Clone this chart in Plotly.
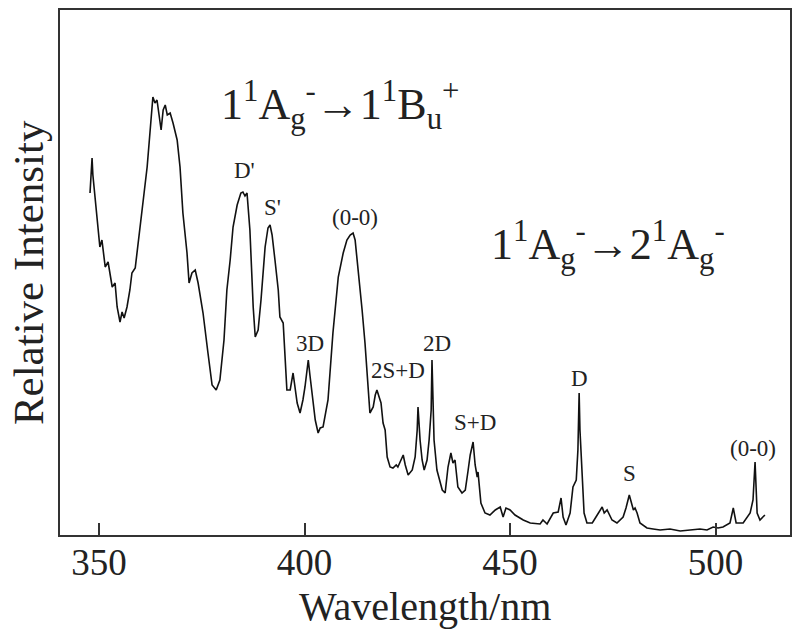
import plotly.graph_objects as go

# Wavelength (nm) and relative intensity (arbitrary units)
wavelength = [347.8, 348.3, 348.5, 349.0, 349.5, 350.2, 350.7, 351.5, 352.2, 353.2,
              353.9, 354.4, 355.1, 355.6, 356.1, 356.8, 357.5, 358.0, 358.8, 359.2,
              360.0, 360.9, 361.7, 362.4, 363.1, 363.6, 364.1, 364.6, 365.1, 365.6,
              366.1, 366.6, 367.3, 368.0, 369.0, 369.7, 370.4, 371.4, 371.9, 372.6,
              373.4, 374.1, 375.3, 376.5, 377.5, 378.5, 379.4, 380.4, 381.1, 381.9,
              382.6, 383.6, 384.5, 385.0, 385.5, 386.0, 386.7, 387.5, 388.0, 388.7,
              389.4, 390.4, 391.1, 391.6, 392.1, 392.8, 393.6, 394.0, 394.8, 395.7,
              396.5, 397.2, 398.2, 398.9, 399.6, 400.1, 400.9, 401.3, 401.8, 402.6,
              403.3, 403.8, 404.5, 405.7, 406.9, 407.7, 408.2, 409.4, 410.3, 411.1,
              411.8, 412.3, 412.8, 413.5, 414.0, 414.7, 415.2, 415.9, 416.7, 417.2,
              417.6, 418.1, 418.6, 419.1, 419.6, 420.1, 420.8, 421.5, 422.3, 422.7,
              423.5, 424.0, 424.5, 425.2, 426.2, 426.9, 427.4, 427.6, 428.1, 428.6,
              429.1, 429.8, 430.3, 430.8, 431.0, 431.3, 431.5, 432.2, 433.0, 433.5,
              434.2, 434.9, 435.6, 436.1, 436.6, 437.3, 438.3, 439.1, 439.8, 440.3,
              441.0, 441.5, 442.0, 442.2, 442.9, 443.9, 445.1, 446.4, 447.6, 448.3,
              449.0, 450.0, 451.2, 453.2, 454.9, 457.3, 458.0, 459.0, 460.5, 461.7,
              462.4, 462.9, 463.6, 464.6, 465.3, 466.1, 466.5, 466.8, 467.0, 467.5,
              468.0, 468.7, 470.0, 471.2, 472.4, 472.9, 473.6, 474.8, 476.0, 477.5,
              478.2, 479.0, 479.5, 480.0, 480.4, 480.9, 481.6, 483.3, 484.8, 486.5,
              488.9, 491.4, 493.8, 496.2, 497.9, 499.4, 500.6, 501.8, 503.5, 504.3,
              505.0, 506.7, 508.4, 509.1, 509.6, 510.1, 510.8, 511.6, 512.0]
intensity = [68.4, 75.4, 72.0, 67.6, 64.0, 57.6, 59.0, 53.6, 54.6, 49.6,
             50.4, 45.6, 42.6, 44.6, 43.4, 45.6, 49.0, 52.4, 53.4, 56.4,
             62.4, 68.0, 73.6, 81.0, 87.6, 86.4, 87.0, 84.0, 81.0, 85.0,
             86.0, 84.0, 84.4, 82.4, 79.0, 73.6, 64.4, 56.4, 50.4, 52.4,
             53.0, 50.4, 44.4, 36.4, 30.0, 29.0, 31.0, 39.0, 49.0, 55.0,
             61.6, 66.0, 68.4, 68.6, 67.8, 68.4, 61.0, 45.6, 39.6, 41.0,
             47.0, 57.6, 61.4, 62.0, 60.0, 55.0, 49.0, 43.6, 42.4, 29.0,
             29.0, 32.4, 26.4, 24.4, 27.0, 29.6, 35.0, 32.0, 28.4, 23.0,
             20.4, 21.4, 21.6, 27.0, 40.4, 47.0, 51.6, 56.4, 59.0, 60.0,
             60.4, 59.0, 55.0, 50.0, 45.0, 38.4, 32.4, 24.4, 25.6, 28.0,
             29.0, 27.6, 26.4, 22.4, 21.0, 15.6, 13.6, 13.4, 14.0, 13.6,
             15.0, 16.0, 14.0, 12.0, 13.0, 15.6, 21.0, 25.6, 19.0, 15.0,
             13.0, 15.0, 19.0, 25.0, 35.0, 27.0, 19.0, 13.0, 10.4, 9.0,
             8.4, 13.6, 16.4, 14.4, 15.0, 9.6, 8.4, 9.0, 13.0, 16.0,
             18.6, 14.0, 11.6, 12.6, 6.4, 4.4, 4.0, 5.0, 5.6, 3.6,
             5.4, 5.0, 4.0, 3.0, 2.4, 2.2, 3.0, 2.2, 4.4, 4.6,
             7.4, 3.6, 2.0, 4.4, 9.6, 11.0, 17.0, 28.4, 21.0, 11.0,
             4.4, 2.4, 2.4, 4.0, 5.6, 4.4, 5.0, 3.0, 2.4, 3.6,
             5.4, 8.0, 6.4, 5.0, 5.4, 4.4, 2.4, 1.4, 1.2, 1.0,
             1.2, 0.8, 1.0, 1.2, 1.0, 1.6, 1.4, 1.6, 2.4, 5.4,
             2.4, 2.4, 4.4, 7.0, 14.6, 4.4, 3.0, 3.6, 4.0]

# Peak assignment labels (text, wavelength, intensity of label)
peak_labels = ["D'", "S'", "(0-0)", "3D", "2S+D", "2D", "S+D", "D", "S", "(0-0)"]
peak_label_x = [385.5, 392.3, 412.3, 401.3, 422.7, 432.2, 441.5, 467.0, 479.0, 509.1]
peak_label_y = [73.0, 65.6, 63.6, 38.4, 33.0, 38.4, 22.6, 31.4, 12.4, 17.4]

x_ticks = [350, 400, 450, 500]

FONT = "Liberation Serif, Times New Roman, serif"
INK = "#222222"

fig = go.Figure()
fig.add_trace(go.Scatter(x=wavelength, y=intensity, mode="lines",
                         line=dict(color="#111111", width=1.6),
                         showlegend=False, hoverinfo="skip"))

for t, px, py in zip(peak_labels, peak_label_x, peak_label_y):
    fig.add_annotation(x=px, y=py, xref="x", yref="y", text=t, showarrow=False,
                       xanchor="center", yanchor="middle",
                       font=dict(family=FONT, size=23, color=INK))

fig.add_annotation(x=0.384, y=0.82, xref="paper", yref="paper",
                   xanchor="center", yanchor="middle",
                   text="1<sup>1</sup>A<sub>g</sub><sup>-</sup>→1<sup>1</sup>B<sub>u</sub><sup>+</sup>",
                   showarrow=False, font=dict(family=FONT, size=44, color=INK))
fig.add_annotation(x=0.751, y=0.553, xref="paper", yref="paper",
                   xanchor="center", yanchor="middle",
                   text="1<sup>1</sup>A<sub>g</sub><sup>-</sup>→2<sup>1</sup>A<sub>g</sub><sup>-</sup>",
                   showarrow=False, font=dict(family=FONT, size=44, color=INK))

# axis titles
fig.add_annotation(x=0.5, y=-0.136, xref="paper", yref="paper",
                   xanchor="center", yanchor="middle", text="Wavelength/nm",
                   showarrow=False, font=dict(family=FONT, size=40, color=INK))
fig.add_annotation(x=-0.043, y=0.5, xref="paper", yref="paper",
                   xanchor="center", yanchor="middle", text="Relative Intensity",
                   textangle=-90, showarrow=False, font=dict(family=FONT, size=43, color=INK))

# page body has an 8px default margin: compensate in the figure size/margins
fig.update_layout(
    width=792, height=633,
    margin=dict(l=52, r=10, t=2, b=106, autoexpand=False),
    paper_bgcolor="white", plot_bgcolor="white",
    font=dict(family=FONT, color=INK),
    xaxis=dict(range=[340.5, 518.1], tickvals=x_ticks, ticktext=[str(v) for v in x_ticks],
               ticks="inside", ticklen=12, tickwidth=1.5, tickcolor="#333333",
               ticklabelstandoff=-6,
               showline=True, mirror=True, linecolor="#333333", linewidth=2,
               showgrid=False, zeroline=False, automargin=False,
               tickfont=dict(family=FONT, size=37, color=INK)),
    yaxis=dict(range=[0, 105], showticklabels=False, ticks="",
               showline=True, mirror=True, linecolor="#333333", linewidth=2,
               showgrid=False, zeroline=False, automargin=False),
)

fig.write_html("out.html")
